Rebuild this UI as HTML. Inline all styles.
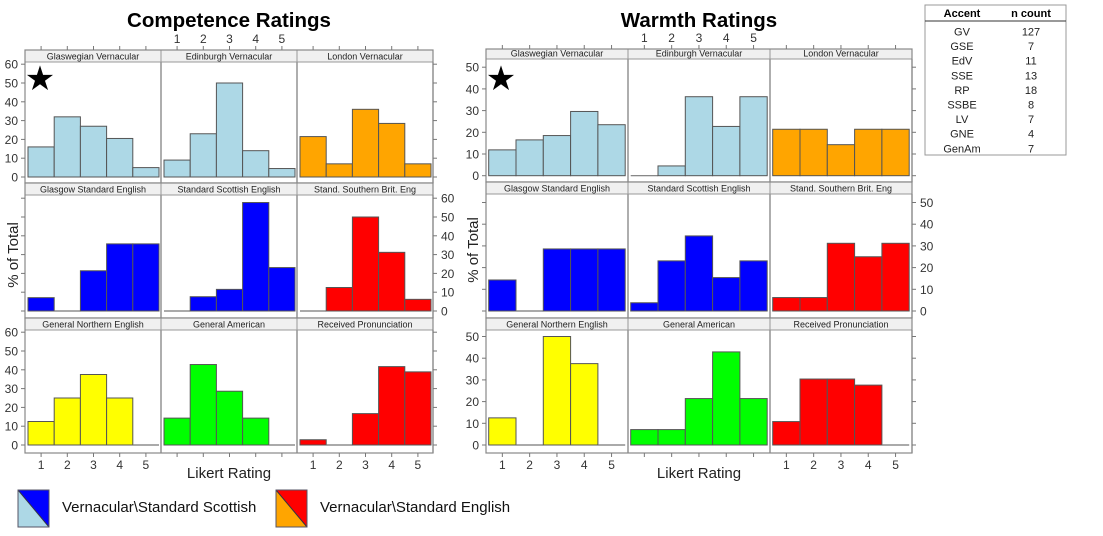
<!DOCTYPE html>
<html><head><meta charset="utf-8">
<style>
html,body{margin:0;padding:0;background:#fff;}
body{width:1103px;height:536px;overflow:hidden;font-family:"Liberation Sans",sans-serif;}
svg{display:block;}
</style></head>
<body>
<svg id="chart" width="1103" height="536" viewBox="0 0 1103 536" xmlns="http://www.w3.org/2000/svg"></svg>
<script>
// ---- data ----
const ratingCategories = [1, 2, 3, 4, 5];
const panelNames = [
  ["Glaswegian Vernacular", "Edinburgh Vernacular", "London Vernacular"],
  ["Glasgow Standard English", "Standard Scottish English", "Stand. Southern Brit. Eng"],
  ["General Northern English", "General American", "Received Pronunciation"]
];
const panelColors = [
  ["#add8e6", "#add8e6", "#ffa500"],
  ["#0000ff", "#0000ff", "#ff0000"],
  ["#ffff00", "#00ff00", "#ff0000"]
];
// Competence percentages
const compGV = [16, 32, 27, 20.5, 5];
const compEdV = [9, 23, 50, 14, 4.5];
const compLV = [21.5, 7, 36, 28.5, 7];
const compGSE = [7.1, 0, 21.4, 35.7, 35.7];
const compSSE = [0, 7.6, 11.5, 57.7, 23.1];
const compSSBE = [0, 12.5, 50, 31.2, 6.2];
const compGNE = [12.5, 25, 37.5, 25, 0];
const compGenAm = [14.3, 42.8, 28.6, 14.3, 0];
const compRP = [2.8, 0, 16.7, 41.7, 38.9];
// Warmth percentages
const warmGV = [11.9, 16.5, 18.5, 29.6, 23.5];
const warmEdV = [0, 4.5, 36.4, 22.7, 36.4];
const warmLV = [21.4, 21.4, 14.3, 21.4, 21.4];
const warmGSE = [14.3, 0, 28.6, 28.6, 28.6];
const warmSSE = [3.8, 23.1, 34.6, 15.4, 23.1];
const warmSSBE = [6.2, 6.2, 31.2, 25, 31.2];
const warmGNE = [12.5, 0, 50, 37.5, 0];
const warmGenAm = [7.1, 7.1, 21.4, 42.9, 21.4];
const warmRP = [10.8, 30.4, 30.4, 27.6, 0];
const compTicks = [0, 10, 20, 30, 40, 50, 60];
const warmTicks = [0, 10, 20, 30, 40, 50];
const tableAccents = ["GV", "GSE", "EdV", "SSE", "RP", "SSBE", "LV", "GNE", "GenAm"];
const tableCounts = [127, 7, 11, 13, 18, 8, 7, 4, 7];

const NS = "http://www.w3.org/2000/svg";
const svg = document.getElementById("chart");
function mk(tag, attrs, parent) {
  const e = document.createElementNS(NS, tag);
  for (const k in attrs) e.setAttribute(k, attrs[k]);
  (parent || svg).appendChild(e);
  return e;
}
function txt(s, attrs, parent) { const t = mk("text", attrs, parent); t.textContent = s; return t; }

function drawChart(opt) {
  const g = mk("g", {});
  
  
  const t = txt(opt.title, {x: opt.x0 + opt.pw * 1.5, y: 27, "text-anchor": "middle", "font-size": 20.5, "font-weight": "bold", fill: "#000"}, g);
  
  
  const xScale = (c, v) => opt.x0 + c * opt.pw + opt.padL + (v - 0.5) * opt.bw;
  for (let r = 0; r < 3; r++) {
    const row = opt.rows[r];
    const yScale = v => row.zero - v * opt.k;
    for (let c = 0; c < 3; c++) {
      const px = opt.x0 + c * opt.pw;
      const pg = mk("g", {}, g);
      
      
      const st = mk("rect", {x: px, y: row.st, width: opt.pw, height: row.sb - row.st, fill: "#f0f0f0", stroke: "#999", "stroke-width": 1}, pg);
      
      
      const sl = txt(panelNames[r][c], {x: px + opt.pw / 2, y: row.sb - 2.5, "text-anchor": "middle", "font-size": 9, fill: "#222"}, pg);
      
      
      const vals = opt.data[r][c];
      vals.forEach((v, i) => {
        const x1 = xScale(c, ratingCategories[i] - 0.5), x2 = xScale(c, ratingCategories[i] + 0.5);
        if (v <= 0) {
          const z = mk("line", {x1: x1, y1: row.zero, x2: x2, y2: row.zero, stroke: "#777", "stroke-width": 1.2}, pg);
          
          
          return;
        }
        const b = mk("rect", {x: x1, y: yScale(v), width: x2 - x1, height: row.zero - yScale(v), fill: panelColors[r][c], stroke: "#555", "stroke-width": 1}, pg);
        
        
      });
      mk("line", {x1: px + opt.pw, y1: row.sb, x2: px + opt.pw, y2: row.pb, stroke: "#777", "stroke-width": 1.2}, pg);
    }
    mk("rect", {x: opt.x0, y: row.st, width: opt.pw * 3, height: row.pb - row.st, fill: "none", stroke: "#888", "stroke-width": 1.2}, g);
    opt.ticks.forEach(v => {
      const y = yScale(v);
      mk("line", {x1: opt.x0 - 4, y1: y, x2: opt.x0, y2: y, stroke: "#777"}, g);
      mk("line", {x1: opt.x0 + opt.pw * 3, y1: y, x2: opt.x0 + opt.pw * 3 + 4, y2: y, stroke: "#777"}, g);
      const right = (r === 1);
      const lx = right ? opt.x0 + opt.pw * 3 + 8 : opt.x0 - 7;
      const l = txt(String(v), {x: lx, y: y + 4.5, "text-anchor": right ? "start" : "end", "font-size": 12, fill: "#333"}, g);
      
      
    });
  }
  const top = opt.rows[0].st, bot = opt.rows[2].pb;
  for (let c = 0; c < 3; c++) {
    ratingCategories.forEach(v => {
      const x = xScale(c, v);
      mk("line", {x1: x, y1: top - 4, x2: x, y2: top, stroke: "#777"}, g);
      mk("line", {x1: x, y1: bot, x2: x, y2: bot + 4, stroke: "#777"}, g);
      if (c === 1) {
        const l = txt(String(v), {x: x, y: top - 7, "text-anchor": "middle", "font-size": 12, fill: "#333"}, g);
        
        
      } else {
        const l = txt(String(v), {x: x, y: bot + 16, "text-anchor": "middle", "font-size": 12, fill: "#333"}, g);
        
        
      }
    });
  }
  const xt = txt("Likert Rating", {x: opt.x0 + opt.pw * 1.5, y: 478, "text-anchor": "middle", "font-size": 15, fill: "#222"}, g);
  
  
  const yt = txt("% of Total", {x: 0, y: 0, "text-anchor": "middle", "font-size": 15, fill: "#222", transform: "translate(" + opt.ylx + "," + opt.yly + ") rotate(-90)"}, g);
  
  
  const s = txt("★", {x: opt.x0 + 15, y: 90, "text-anchor": "middle", "font-size": 34, fill: "#000"}, g);
  
  
}

drawChart({
  name: "competence-chart", title: "Competence Ratings", x0: 25, pw: 136, padL: 3, bw: 26.2, k: 1.88,
  ticks: compTicks, ylx: 18, yly: 255,
  rows: [{st: 50, sb: 62, pb: 183, zero: 177}, {st: 183, sb: 195, pb: 318, zero: 311}, {st: 318, sb: 330, pb: 453, zero: 445}],
  data: [[compGV, compEdV, compLV], [compGSE, compSSE, compSSBE], [compGNE, compGenAm, compRP]]
});
drawChart({
  name: "warmth-chart", title: "Warmth Ratings", x0: 486, pw: 142, padL: 2.7, bw: 27.3, k: 2.17,
  ticks: warmTicks, ylx: 478, yly: 250,
  rows: [{st: 49, sb: 59, pb: 182, zero: 175.7}, {st: 182, sb: 194, pb: 318, zero: 311}, {st: 318, sb: 330, pb: 453, zero: 445}],
  data: [[warmGV, warmEdV, warmLV], [warmGSE, warmSSE, warmSSBE], [warmGNE, warmGenAm, warmRP]]
});

// table
const tg = mk("g", {});


mk("rect", {x: 925, y: 5, width: 141, height: 150, fill: "#fff", stroke: "#999"}, tg);
mk("line", {x1: 925, y1: 21, x2: 1066, y2: 21, stroke: "#333"}, tg);
txt("Accent", {x: 962, y: 17, "text-anchor": "middle", "font-size": 11, "font-weight": "bold"}, tg);
txt("n count", {x: 1031, y: 17, "text-anchor": "middle", "font-size": 11, "font-weight": "bold"}, tg);
tableAccents.forEach((a, i) => {
  const y = 35.5 + i * 14.6;
  const c1 = txt(a, {x: 962, y: y, "text-anchor": "middle", "font-size": 11, fill: "#222"}, tg);
  
  
  const c2 = txt(String(tableCounts[i]), {x: 1031, y: y, "text-anchor": "middle", "font-size": 11, fill: "#222"}, tg);
  
  
});

// legend
function legendItem(x, lower, upper, label, name) {
  const lg = mk("g", {});
  
  
  mk("polygon", {points: (x) + ",490 " + (x) + ",527 " + (x + 31) + ",527", fill: lower}, lg);
  mk("polygon", {points: (x) + ",490 " + (x + 31) + ",490 " + (x + 31) + ",527", fill: upper}, lg);
  mk("line", {x1: x, y1: 490, x2: x + 31, y2: 527, stroke: "#334", "stroke-width": 1}, lg);
  mk("rect", {x: x, y: 490, width: 31, height: 37, fill: "none", stroke: "#556", "stroke-width": 1}, lg);
  txt(label, {x: x + 44, y: 512, "font-size": 15, fill: "#111"}, lg);
}
legendItem(18, "#add8e6", "#0000ff", "Vernacular\\Standard Scottish", "legend-scottish");
legendItem(276, "#ffa500", "#ff0000", "Vernacular\\Standard English", "legend-english");
</script>
</body></html>
